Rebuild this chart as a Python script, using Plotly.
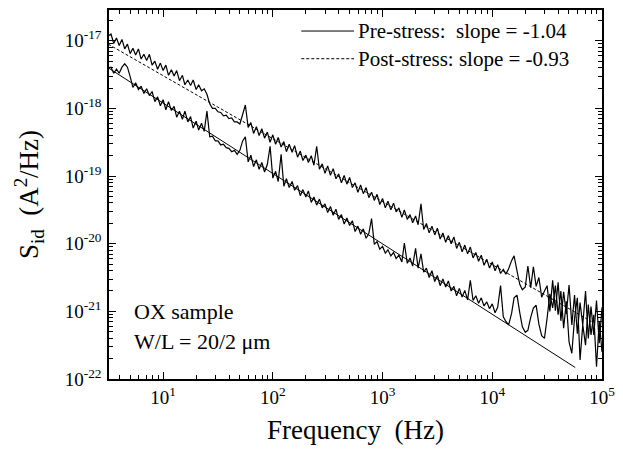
import plotly.graph_objects as go

# ---------------- data ----------------
freq_hz = [
    3.16, 3.35, 3.55, 3.76, 3.98, 4.22, 4.47, 4.73, 5.01, 5.31,
    5.62, 5.96, 6.31, 6.68, 7.08, 7.5, 7.94, 8.41, 8.91, 9.44,
    10, 10.6, 11.2, 11.9, 12.6, 13.3, 14.1, 15, 15.8, 16.8,
    17.8, 18.8, 20, 21.1, 22.4, 23.7, 25.1, 26.6, 28.2, 29.9,
    31.6, 33.5, 35.5, 37.6, 39.8, 42.2, 44.7, 47.3, 50.1, 53.1,
    56.2, 59.6, 63.1, 66.8, 70.8, 75, 79.4, 84.1, 89.1, 94.4,
    100, 106, 112, 119, 126, 133, 141, 150, 158, 168,
    178, 188, 200, 211, 224, 237, 251, 266, 282, 299,
    316, 335, 355, 376, 398, 422, 447, 473, 501, 531,
    562, 596, 631, 668, 708, 750, 794, 841, 891, 944,
    1000, 1060, 1120, 1190, 1260, 1330, 1410, 1500, 1580, 1680,
    1780, 1880, 2000, 2110, 2240, 2370, 2510, 2660, 2820, 2990,
    3160, 3350, 3550, 3760, 3980, 4220, 4470, 4730, 5010, 5310,
    5620, 5960, 6310, 6680, 7080, 7500, 7940, 8410, 8910, 9440,
    10000, 10600, 11200, 11900, 12600, 13300, 14100, 15000, 15800, 16800,
    17800, 18800, 20000, 21100, 22400, 23700, 25100, 26600, 28200, 29900,
    31600, 33500, 35500, 37600, 39800, 42200, 44700, 47300, 50100, 53100,
    56200, 59600, 63100, 66800, 70800, 75000, 79400, 84100, 89100, 94400,
    100000,
]

# log10 of S_id (A^2/Hz)
pre_log10_sid = [
    -17.40, -17.39, -17.48, -17.42, -17.48, -17.39, -17.34, -17.39, -17.53, -17.69,
    -17.62, -17.72, -17.67, -17.78, -17.71, -17.81, -17.75, -17.90, -17.83, -17.96,
    -17.87, -18.02, -17.90, -18.03, -17.97, -18.13, -18.04, -18.16, -18.04, -18.20,
    -18.12, -18.29, -18.19, -18.32, -18.22, -18.34, -18.04, -18.42, -18.41, -18.48,
    -18.48, -18.54, -18.53, -18.58, -18.59, -18.64, -18.62, -18.68, -18.62, -18.48,
    -18.42, -18.79, -18.69, -18.86, -18.76, -18.90, -18.80, -18.94, -18.83, -18.56,
    -19.03, -18.93, -19.08, -18.68, -19.15, -19.04, -19.17, -19.08, -19.21, -19.14,
    -19.29, -19.20, -19.31, -19.22, -19.39, -19.31, -19.43, -19.34, -19.47, -19.41,
    -19.54, -19.45, -19.58, -19.49, -19.64, -19.57, -19.71, -19.62, -19.73, -19.66,
    -19.82, -19.74, -19.86, -19.78, -19.92, -19.85, -19.63, -20.01, -19.97, -20.08,
    -20.04, -20.14, -20.09, -20.18, -20.13, -20.22, -20.17, -20.27, -19.99, -20.29,
    -20.21, -20.33, -20.07, -20.36, -20.15, -20.42, -20.36, -20.50, -20.40, -20.56,
    -20.47, -20.62, -20.52, -20.64, -20.55, -20.70, -20.63, -20.77, -20.66, -20.79,
    -20.69, -20.83, -20.54, -20.84, -20.77, -20.88, -20.80, -20.92, -20.86, -20.96,
    -20.89, -21.02, -20.94, -20.62, -21.08, -21.15, -21.20, -21.03, -20.80, -20.76,
    -21.02, -21.23, -21.31, -21.28, -21.09, -20.95, -20.91, -21.19, -21.36, -21.40,
    -21.10, -20.74, -20.95, -20.62, -21.05, -20.70, -21.25, -20.85, -21.45, -21.62,
    -21.10, -20.80, -21.72, -21.20, -21.50, -20.90, -21.35, -21.05, -21.82, -21.15,
    -21.60,
]

post_log10_sid = [
    -16.93, -16.90, -17.04, -16.96, -17.07, -16.98, -17.12, -17.05, -17.19, -17.11,
    -17.21, -17.12, -17.27, -17.20, -17.29, -17.20, -17.36, -17.30, -17.42, -17.33,
    -17.44, -17.36, -17.51, -17.43, -17.52, -17.44, -17.59, -17.51, -17.65, -17.58,
    -17.66, -17.58, -17.72, -17.65, -17.74, -17.71, -17.79, -17.93, -18.00, -18.00,
    -18.05, -18.06, -18.11, -18.10, -18.15, -18.14, -18.20, -18.20, -18.23, -18.09,
    -17.95, -18.28, -18.21, -18.37, -18.27, -18.40, -18.30, -18.44, -18.35, -18.50,
    -18.39, -18.53, -18.43, -18.57, -18.49, -18.64, -18.53, -18.65, -18.55, -18.72,
    -18.63, -18.77, -18.69, -18.80, -18.70, -18.84, -18.56, -18.90, -18.82, -18.96,
    -18.85, -18.99, -18.89, -19.04, -18.97, -19.10, -18.99, -19.12, -19.02, -19.17,
    -19.10, -19.24, -19.13, -19.26, -19.17, -19.32, -19.24, -19.36, -19.27, -19.42,
    -19.33, -19.47, -19.37, -19.50, -19.40, -19.53, -19.47, -19.61, -19.50, -19.64,
    -19.57, -19.69, -19.59, -19.72, -19.41, -19.79, -19.70, -19.84, -19.74, -19.87,
    -19.77, -19.93, -19.84, -19.98, -19.88, -20.00, -19.90, -20.07, -19.98, -20.12,
    -20.02, -20.15, -20.05, -20.21, -20.13, -20.26, -20.17, -20.32, -20.23, -20.36,
    -20.27, -20.40, -20.31, -20.44, -20.38, -20.45, -20.37, -20.25, -20.18, -20.40,
    -20.60, -20.68, -20.64, -20.33, -20.65, -20.34, -20.63, -20.50, -20.79, -20.70,
    -20.62, -21.00, -20.54, -20.99, -20.57, -21.14, -20.71, -21.04, -20.61, -21.20,
    -20.76, -21.33, -20.87, -21.20, -20.70, -21.40, -20.93, -21.35, -20.84, -21.47,
    -20.94,
]

# fitted lines (end points)
pre_fit_freq = [3.16, 57000]
pre_fit_log10 = [-17.40, -21.83]
post_fit_freq = [3.16, 80000]
post_fit_log10 = [-17.05, -21.15]

legend_labels = ["Pre-stress:  slope = -1.04", "Post-stress: slope = -0.93"]

x_tick_vals = [10, 100, 1000, 10000, 100000]
x_tick_text = ["10<sup>1</sup>", "10<sup>2</sup>", "10<sup>3</sup>", "10<sup>4</sup>", "10<sup>5</sup>"]
y_tick_vals = [1e-22, 1e-21, 1e-20, 1e-19, 1e-18, 1e-17]
y_tick_text = ["10<sup>-22</sup>", "10<sup>-21</sup>", "10<sup>-20</sup>",
               "10<sup>-19</sup>", "10<sup>-18</sup>", "10<sup>-17</sup>"]

# ---------------- figure ----------------
FONT = "Liberation Serif, Times New Roman, serif"

def lin(vals):
    return [10 ** v for v in vals]

fig = go.Figure()
fig.add_trace(go.Scatter(x=freq_hz, y=lin(post_log10_sid), mode="lines",
                         line=dict(color="black", width=1.2), showlegend=False))
fig.add_trace(go.Scatter(x=freq_hz, y=lin(pre_log10_sid), mode="lines",
                         line=dict(color="black", width=1.2), showlegend=False))
fig.add_trace(go.Scatter(x=pre_fit_freq, y=lin(pre_fit_log10), mode="lines",
                         line=dict(color="black", width=1), showlegend=False))
fig.add_trace(go.Scatter(x=post_fit_freq, y=lin(post_fit_log10), mode="lines",
                         line=dict(color="black", width=1, dash="3px,2px"), showlegend=False))

# legend drawn by hand
leg_y = [0.943, 0.868]
leg_dash = ["solid", "3px,2px"]
for yy, lab, dsh in zip(leg_y, legend_labels, leg_dash):
    fig.add_shape(type="line", xref="paper", yref="paper", x0=0.390, x1=0.497, y0=yy, y1=yy,
                  line=dict(color="black", width=1, dash=dsh))
    fig.add_annotation(xref="paper", yref="paper", x=0.500, y=yy, text=lab, showarrow=False,
                       xanchor="left", yanchor="middle", font=dict(family=FONT, size=21, color="black"))

fig.add_annotation(xref="paper", yref="paper", x=0.046, y=0.183, text="OX sample", showarrow=False,
                   xanchor="left", yanchor="middle", font=dict(family=FONT, size=22, color="black"))
fig.add_annotation(xref="paper", yref="paper", x=0.046, y=0.102, text="W/L = 20/2 \u03bcm", showarrow=False,
                   xanchor="left", yanchor="middle", font=dict(family=FONT, size=22, color="black"))

axis_common = dict(type="log", showgrid=False, zeroline=False, showline=True, linecolor="black",
                   linewidth=1.5, mirror="ticks", ticks="inside", ticklen=7, tickwidth=1,
                   tickcolor="black", tickmode="array",
                   tickfont=dict(family=FONT, size=19, color="black"),
                   minor=dict(ticks="inside", ticklen=4, tickwidth=1, tickcolor="black",
                              dtick="D1", showgrid=False))

fig.update_xaxes(**axis_common, range=[0.507, 5.0], tickvals=x_tick_vals, ticktext=x_tick_text,
                 title=dict(text="Frequency  (Hz)", font=dict(family=FONT, size=27, color="black"),
                            standoff=14))
fig.update_yaxes(**axis_common, range=[-22, -16.545], tickvals=y_tick_vals, ticktext=y_tick_text,
                 ticklabelstandoff=2,
                 title=dict(text="S<sub>id</sub>  (A<sup>2</sup>/Hz)",
                            font=dict(family=FONT, size=27, color="black"), standoff=18))

fig.update_layout(width=623, height=453, margin=dict(l=109, r=19, t=8, b=74),
                  paper_bgcolor="white", plot_bgcolor="white", showlegend=False,
                  font=dict(family=FONT, color="black"))

fig.write_html("out.html", config={"displayModeBar": False},
               post_script="document.body.style.margin='0';document.body.style.padding='0';")
